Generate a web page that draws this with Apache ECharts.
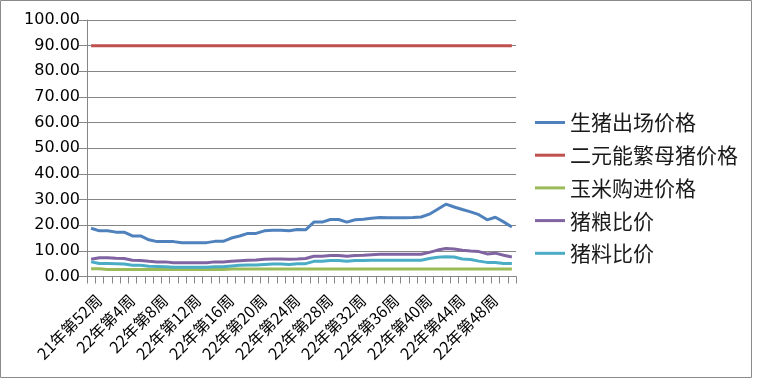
<!DOCTYPE html>
<html>
<head>
<meta charset="utf-8">
<script src="https://cdn.jsdelivr.net/npm/echarts@6/dist/echarts.min.js"></script>
<style>
html,body{margin:0;padding:0;background:#fff;}
#c{width:757px;height:379px;}
</style>
</head>
<body>
<div id="c"></div>
<script>
var categories = ['21年第52周','22年第1周','22年第2周','22年第3周','22年第4周','22年第5周','22年第6周','22年第7周','22年第8周','22年第9周','22年第10周','22年第11周','22年第12周','22年第13周','22年第14周','22年第15周','22年第16周','22年第17周','22年第18周','22年第19周','22年第20周','22年第21周','22年第22周','22年第23周','22年第24周','22年第25周','22年第26周','22年第27周','22年第28周','22年第29周','22年第30周','22年第31周','22年第32周','22年第33周','22年第34周','22年第35周','22年第36周','22年第37周','22年第38周','22年第39周','22年第40周','22年第41周','22年第42周','22年第43周','22年第44周','22年第45周','22年第46周','22年第47周','22年第48周','22年第49周','22年第50周','22年第51周'];

var hogPrice = [18.8,17.8,17.8,17.3,17.3,15.8,15.8,14.3,13.6,13.6,13.6,13.2,13.2,13.2,13.2,13.7,13.7,15.0,15.8,16.8,16.8,17.8,18.0,18.0,17.8,18.3,18.2,21.2,21.2,22.2,22.2,21.2,22.1,22.3,22.7,23.0,22.9,22.9,22.9,23.0,23.2,24.3,26.2,28.2,27.1,26.1,25.2,24.1,22.1,23.1,21.3,19.3];

var sowPrice = [90,90,90,90,90,90,90,90,90,90,90,90,90,90,90,90,90,90,90,90,90,90,90,90,90,90,90,90,90,90,90,90,90,90,90,90,90,90,90,90,90,90,90,90,90,90,90,90,90,90,90,90];

var cornPrice = [3.0,3.0,2.7,2.7,2.7,2.7,2.7,2.7,2.7,2.7,2.7,2.7,2.7,2.7,2.7,2.7,2.7,2.9,2.9,2.9,2.9,2.9,2.9,2.9,2.9,2.9,2.9,2.9,2.9,2.9,2.9,2.9,2.9,2.9,2.9,2.9,2.9,2.9,2.9,2.9,2.9,2.9,2.9,2.9,2.9,2.9,2.9,2.9,2.9,2.9,2.9,2.9];

var hogGrainRatio = [6.7,7.3,7.3,7.1,7.0,6.3,6.2,5.9,5.7,5.7,5.4,5.4,5.4,5.4,5.4,5.7,5.7,5.9,6.1,6.3,6.4,6.7,6.8,6.8,6.7,6.8,7.0,7.9,7.9,8.2,8.2,7.9,8.2,8.3,8.5,8.7,8.7,8.7,8.7,8.7,8.7,9.4,10.3,10.9,10.7,10.2,9.9,9.7,8.8,9.1,8.3,7.6];

var hogFeedRatio = [5.7,5.1,5.1,5.0,4.9,4.4,4.4,4.0,3.9,3.8,3.6,3.6,3.6,3.6,3.6,3.8,3.8,4.1,4.4,4.5,4.5,4.7,4.9,4.9,4.7,5.0,5.0,5.9,5.9,6.2,6.2,5.9,6.2,6.2,6.3,6.3,6.3,6.3,6.3,6.3,6.3,7.0,7.5,7.7,7.6,6.8,6.6,6.0,5.5,5.5,5.1,5.1];

var seriesNames = ['生猪出场价格','二元能繁母猪价格','玉米购进价格','猪粮比价','猪料比价'];
var seriesData = [hogPrice, sowPrice, cornPrice, hogGrainRatio, hogFeedRatio];
var colors = ['#4F81BD','#C0504D','#9BBB59','#8064A2','#4BACC6'];

var chart = echarts.init(document.getElementById('c'), null, {renderer:'canvas'});
var gridColor = '#868686';
chart.setOption({
  animation: false,
  color: colors,
  graphic: [{
    type: 'rect',
    shape: {x: 0.5, y: 0.5, width: 751, height: 377},
    style: {fill: 'none', stroke: '#8a8a8a', lineWidth: 1},
    silent: true
  }],
  grid: {left: 87, right: 241, top: 20, bottom: 102.5, containLabel: false},
  legend: {
    orient: 'vertical',
    left: 535,
    top: 112,
    padding: 0,
    itemGap: 11.7,
    itemWidth: 30,
    itemHeight: 3,
    icon: 'rect',
    textStyle: {fontSize: 21, lineHeight: 21, color: '#1a1a1a', fontFamily: 'Noto Sans CJK SC'},
    data: seriesNames
  },
  xAxis: {
    type: 'category',
    data: categories,
    boundaryGap: true,
    axisLine: {show: true, lineStyle: {color: gridColor, width: 1}},
    axisTick: {show: true, interval: 0, length: 7, inside: false, lineStyle: {color: gridColor}},
    axisLabel: {interval: 3, rotate: 45, fontSize: 16, lineHeight: 22, verticalAlign: 'top',
      color: '#000', margin: 13, fontFamily: 'Noto Sans CJK SC'},
    splitLine: {show: false}
  },
  yAxis: {
    type: 'value',
    min: 0, max: 100, interval: 10,
    axisLine: {show: true, lineStyle: {color: gridColor, width: 1}},
    axisTick: {show: true, length: 8, lineStyle: {color: gridColor}},
    axisLabel: {fontSize: 16, color: '#000', margin: 7, fontFamily: 'DejaVu Sans',
      formatter: function(v){ return v.toFixed(2); }},
    splitLine: {show: true, lineStyle: {color: gridColor, width: 1}}
  },
  series: seriesNames.map(function(n, i){
    return {
      name: n, type: 'line', data: seriesData[i],
      symbol: 'none', smooth: false,
      lineStyle: {width: 3, color: colors[i]},
      itemStyle: {color: colors[i]}
    };
  })
});
</script>
</body>
</html>
